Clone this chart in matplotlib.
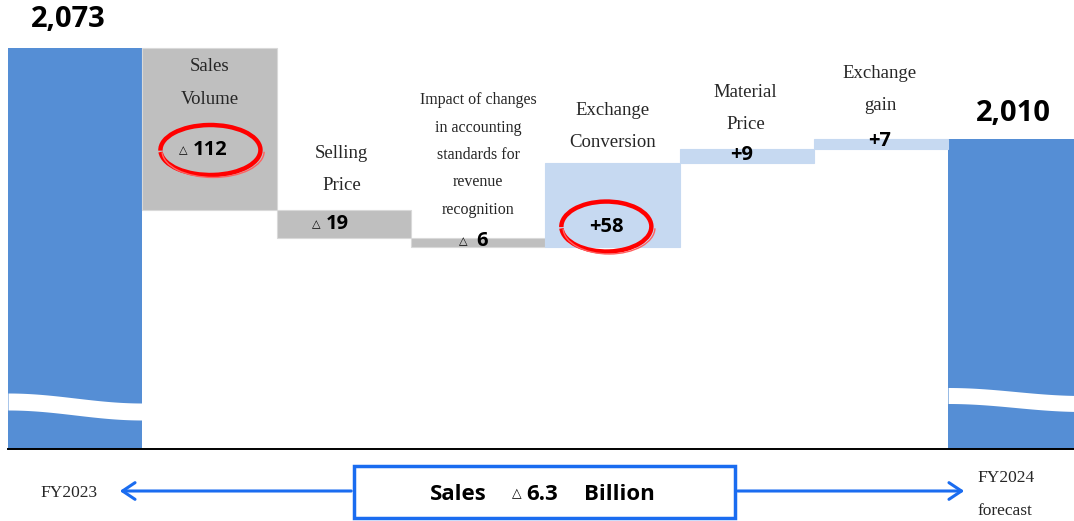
import numpy as np
import matplotlib.pyplot as plt
from matplotlib.patches import Arc, FancyArrowPatch, Rectangle

# ---- data ----
categories = ["FY2023", "Sales\nVolume", "Selling\nPrice",
              "Impact of changes\nin accounting\nstandards for\nrevenue\nrecognition",
              "Exchange\nConversion", "Material\nPrice", "Exchange\ngain", "FY2024\nforecast"]
start_value = 2073
changes = [-112, -19, -6, 58, 9, 7]
end_value = 2010
value_labels = ["2,073", "112", "19", "6", "+58", "+9", "+7", "2,010"]
total_text = ["Sales", "6.3", "Billion"]

# ---- layout / style ----
W, H = 1074, 521
PX = 1.45                      # pixels per unit on the value axis
base_px, top_px = 449, 48      # baseline row and row of the first bar top
ybot = start_value - (base_px - top_px) / PX
ytop = start_value + top_px / PX
bar_px = 134.3

c_total, c_neg, c_pos = "#558ED5", "#BFBFBF", "#C6D9F1"
arrow_blue = "#1A6CF0"
serif = ["Liberation Serif", "DejaVu Serif"]
sans = ["Open Sans", "DejaVu Sans"]

# label offsets in pixels relative to (bar centre, bar top)
value_off = [(-7, 28), (1, -102), (-6, -14), (4, -3), (-6, -64), (-5, -6), (-1, -2), (-2, 26)]
cat_off = [None, (0, -35), (-2, 41), (0, 83), (0, 36), (-1, 41), (-1, 50), None]
tri_gap = [0, 6, 6, 9, 0, 0, 0, 0]

# ---- waterfall geometry ----
levels = start_value + np.cumsum(changes)
prev = np.concatenate([[start_value], levels[:-1]])
lows = np.minimum(prev, levels)
highs = np.maximum(prev, levels)

fig = plt.figure(figsize=(W / 100, H / 100), dpi=100)
ax = fig.add_axes([8 / W, 1 - base_px / H, (W - 8) / W, base_px / H])
ax.set_xlim(-0.5, -0.5 + (W - 8) / bar_px)
ax.set_ylim(ybot, ytop)
ax.axis("off")

x = np.arange(len(categories))
ax.bar(x[0], start_value - ybot, bottom=ybot, width=1.0, color=c_total, linewidth=0)
ax.bar(x[-1], end_value - ybot, bottom=ybot, width=1.0, color=c_total, linewidth=0)
for i, ch in enumerate(changes):
    ax.bar(x[i + 1], highs[i] - lows[i], bottom=lows[i], width=1.0,
           color=c_neg if ch < 0 else c_pos, edgecolor="#D9D9D9" if ch < 0 else c_pos,
           linewidth=0.8)

ax.axhline(ybot, color="black", lw=1.4, clip_on=False)

# wavy break in the total bars
for xi, mid_px, amp_px, thick_px in [(0, 406.5, 5, 17), (7, 399.5, 4, 16)]:
    t = np.linspace(0, 1, 100)
    xs = xi - 0.5 + t
    mid = start_value - (mid_px - top_px) / PX
    yc = mid - (amp_px / PX) * np.sin(np.pi * (t - 0.5))
    ax.fill_between(xs, yc - thick_px / 2 / PX, yc + thick_px / 2 / PX,
                    color="white", linewidth=0)

tops = [start_value] + list(highs) + [end_value]

# value labels
for i, lab in enumerate(value_labels):
    dx, dy = value_off[i]
    big = i in (0, len(categories) - 1)
    t = ax.annotate(lab, (x[i], tops[i]), xytext=(dx * 0.72, dy * 0.72),
                    textcoords="offset points", ha="center", va="center",
                    fontsize=21 if big else 14.5, fontweight="bold",
                    family=sans, color="black")
    if 0 < i < len(categories) - 1 and changes[i - 1] < 0:
        ax.annotate("△", (0, 0.5), xycoords=t, xytext=(-tri_gap[i] * 0.72, 0),
                    textcoords="offset points", ha="right", va="center",
                    fontsize=8, family=["DejaVu Sans"], color="black")
    if lab in ("112", "+58"):
        w_px = 100 if lab == "112" else 90
        cy = tops[i] + dy / PX
        cx = x[i] + dx / bar_px
        ax.add_patch(Arc((cx, cy), w_px / bar_px, 50 / PX, theta1=255, theta2=590,
                         color="red", lw=3.2))
        ax.add_patch(Arc((cx + 0.02, cy - 1.0), w_px / bar_px * 1.02, 50 / PX * 1.04,
                         theta1=235, theta2=330, color="#FF6060", lw=1.0))

# category labels
for i, lab in enumerate(categories):
    if cat_off[i] is None:
        continue
    dx, dy = cat_off[i]
    small = lab.count("\n") > 2
    ax.annotate(lab, (x[i], tops[i]), xytext=(dx * 0.72, dy * 0.72),
                textcoords="offset points", ha="center", va="center",
                fontsize=11.5 if small else 13.5, linespacing=1.95 if small else 2.2,
                family=serif, color="#262626")


# ---- bottom summary ----
def fx(px):
    return px / W


def fy(py):
    return 1 - py / H


fig.text(fx(40), fy(493), categories[0], ha="left", va="center",
         fontsize=12.5, family=serif, color="#262626")
fig.text(fx(977), fy(478), categories[-1].split("\n")[0], ha="left", va="center",
         fontsize=12.5, family=serif, color="#262626")
fig.text(fx(977), fy(511), categories[-1].split("\n")[1], ha="left", va="center",
         fontsize=12.5, family=serif, color="#262626")

for a, b in [((fx(354), fy(491)), (fx(117), fy(491))),
             ((fx(735), fy(491)), (fx(967), fy(491)))]:
    fig.add_artist(FancyArrowPatch(a, b, transform=fig.transFigure,
                                   arrowstyle="->,head_length=6,head_width=4",
                                   color=arrow_blue, lw=2.2, mutation_scale=1.5))

fig.add_artist(Rectangle((fx(354), fy(518)), fx(735) - fx(354), fy(466) - fy(518),
                         transform=fig.transFigure, facecolor="white",
                         edgecolor=arrow_blue, lw=2.5))
fig.text(fx(487), fy(494), total_text[0], ha="right", va="center",
         fontsize=16, fontweight="bold", family=sans)
fig.text(fx(522), fy(494), "△", ha="right", va="center", fontsize=9, family=["DejaVu Sans"])
fig.text(fx(526), fy(494), total_text[1], ha="left", va="center",
         fontsize=16, fontweight="bold", family=sans)
fig.text(fx(584), fy(494), total_text[2], ha="left", va="center",
         fontsize=16, fontweight="bold", family=sans)

fig.savefig("out.png", dpi=100)
